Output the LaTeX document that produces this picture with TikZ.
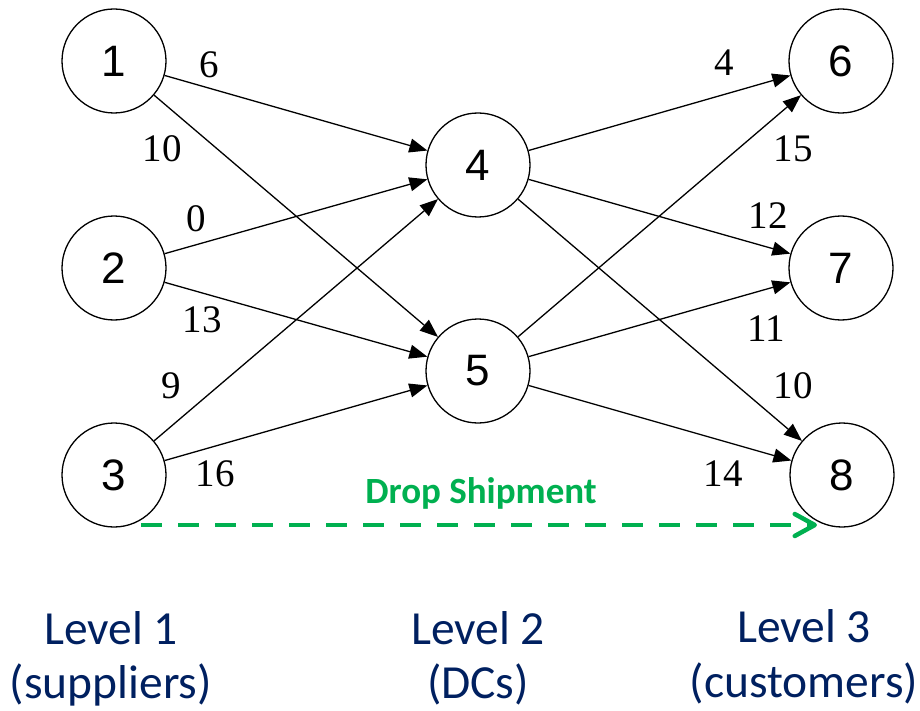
\documentclass[tikz,border=0pt]{standalone}
\usepackage{fontspec}
\usetikzlibrary{arrows.meta}
\newfontfamily\numfont{Liberation Sans}
\newfontfamily\wtfont{Liberation Serif}
\newfontfamily\calfont{Carlito}
\definecolor{dropgreen}{HTML}{00B050}
\definecolor{levelnavy}{HTML}{002060}
\begin{document}
\begin{tikzpicture}[x=1pt,y=-1pt,
  site/.style={circle,draw,line width=1.3pt,minimum size=104pt,inner sep=0pt,
    font=\numfont\fontsize{44}{44}\selectfont},
  flow/.style={line width=1.3pt,-{Triangle[length=18pt,width=14pt]}},
  weight/.style={font=\wtfont\fontsize{39}{39}\selectfont,inner sep=0pt},
  level/.style={font=\calfont\fontsize{47.5}{53}\selectfont,text=levelnavy,inner sep=0pt,anchor=base},
  drop/.style={dropgreen,line width=4.5pt,dash pattern=on 21pt off 16pt,
    -{Straight Barb[length=20pt,width=22pt,round]}}
]
\useasboundingbox (0,0) rectangle (920,711);

% suppliers, DCs, customers
\node[site] (n1) at (114,61)  {1};
\node[site] (n2) at (114,268) {2};
\node[site] (n3) at (114,475) {3};
\node[site] (n4) at (478,165) {4};
\node[site] (n5) at (478,371) {5};
\node[site] (n6) at (841,61)  {6};
\node[site] (n7) at (841,268) {7};
\node[site] (n8) at (842,475) {8};

% shipping lanes
\draw[flow] (n1) -- (n4);
\draw[flow] (n1) -- (n5);
\draw[flow] (n2) -- (n4);
\draw[flow] (n2) -- (n5);
\draw[flow] (n3) -- (n4);
\draw[flow] (n3) -- (n5);
\draw[flow] (n4) -- (n6);
\draw[flow] (n4) -- (n7);
\draw[flow] (n4) -- (n8);
\draw[flow] (n5) -- (n6);
\draw[flow] (n5) -- (n7);
\draw[flow] (n5) -- (n8);

% lane costs
\node[weight] (w14) at (209,65)  {6};
\node[weight] (w15) at (162,149) {10};
\node[weight] (w24) at (196,219) {0};
\node[weight] (w25) at (202,320) {13};
\node[weight] (w34) at (171,386) {9};
\node[weight] (w35) at (215,474) {16};
\node[weight] (w46) at (724,63)  {4};
\node[weight] (w56) at (793,149) {15};
\node[weight] (w47) at (768,216) {12};
\node[weight] (w57) at (766,329) {11};
\node[weight] (w48) at (793,386) {10};
\node[weight] (w58) at (723,474) {14};

% direct shipment from supplier to customer
\coordinate (ds) at (141,525);
\coordinate (de) at (817,525);
\draw[drop] (ds) -- (de);
\node[font=\calfont\bfseries\fontsize{37}{37}\selectfont,text=dropgreen,inner sep=0pt]
  (droplbl) at (481,493) {Drop Shipment};

% level captions
\node[level] (l1a) at (111,644) {Level 1};
\node[level] (l1b) at (111,698) {(suppliers)};
\node[level] (l2a) at (478,644) {Level 2};
\node[level] (l2b) at (478,698) {(DCs)};
\node[level] (l3a) at (804,642) {Level 3};
\node[level] (l3b) at (804,697) {(customers)};
\end{tikzpicture}
\end{document}
